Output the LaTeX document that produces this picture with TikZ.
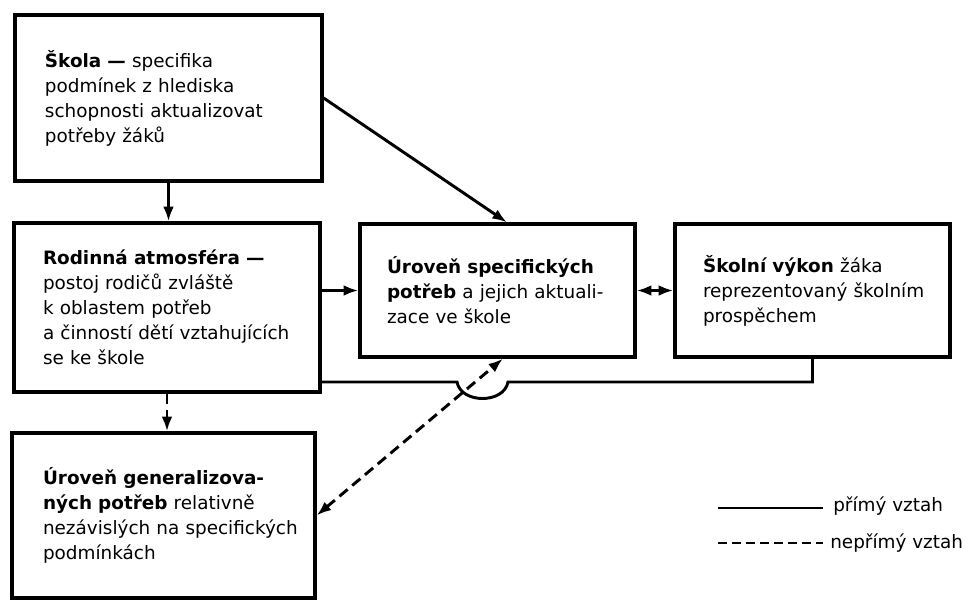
\documentclass[tikz,border=0pt]{standalone}
\usepackage{fontspec}
\setmainfont{DejaVu Sans}
\usetikzlibrary{arrows.meta,calc}
\newcommand{\bl}[1]{\mbox{#1}}
\begin{document}
\begin{tikzpicture}[x=0.75pt,y=-0.75pt,
  txt/.style={font=\fontsize{13.8}{18.75}\selectfont},
  box/.style={txt, draw, line width=2.4pt, align=left, inner xsep=0pt, inner ysep=0pt},
  conn/.style={line width=2.2pt},
  tip/.style={-{Latex[length=11pt,width=8pt]}},
  tips/.style={{Latex[length=11pt,width=8pt]}-{Latex[length=11pt,width=8pt]}},
  dsh/.style={dash pattern=on 8pt off 4.5pt}]
\useasboundingbox (0,0) rectangle (972,600);

\node[box, minimum width=230.25pt, minimum height=124.5pt, text width=185.25pt] (skola) at (168.5,98)
  {\bl{\textbf{Škola —} specifika}\\ \bl{podmínek z hlediska}\\ \bl{schopnosti aktualizovat}\\ \bl{potřeby žáků}};

\node[box, minimum width=229.5pt, minimum height=126.75pt, text width=186pt] (rodina) at (167,307.5)
  {\bl{\textbf{Rodinná atmosféra —}}\\ \bl{postoj rodičů zvláště}\\ \bl{k oblastem potřeb}\\ \bl{a činností dětí vztahujících}\\ \bl{se ke škole}};

\node[box, minimum width=227.25pt, minimum height=123.75pt, text width=180.75pt] (gen) at (163.5,515.5)
  {\bl{\textbf{Úroveň generalizova-}}\\ \bl{\textbf{ných potřeb} relativně}\\ \bl{nezávislých na specifických}\\ \bl{podmínkách}};

\node[box, minimum width=206.25pt, minimum height=99.75pt, text width=165.75pt] (spec) at (497.5,290.5)
  {\bl{\textbf{Úroveň specifických}}\\ \bl{\textbf{potřeb} a jejich aktuali-}\\ \bl{zace ve škole}};

\node[box, minimum width=206.25pt, minimum height=99.75pt, text width=164.25pt] (vykon) at (812.5,290.5)
  {\bl{\textbf{Školní výkon} žáka}\\ \bl{reprezentovaný školním}\\ \bl{prospěchem}};

% solid connectors
\draw[conn,tip] (skola.south) -- (skola.south |- rodina.north);
\draw[conn,tip] (skola.east) -- ([xshift=7.1pt]spec.north);
\draw[conn,tip] (rodina.east |- spec.west) -- (spec.west);
\draw[conn,tips] (spec.east) -- (vykon.west);

\coordinate (hopR) at (508,382);
\coordinate (hopL) at (457,382);
\draw[conn] (vykon.south) -- (vykon.south |- hopR) -- (hopR)
  .. controls +(-4,22) and +(4,22) .. (hopL) -- (rodina.east |- hopL);

% dashed connectors
\draw[conn,dsh,tip] (rodina.south) -- (rodina.south |- gen.north);
\draw[conn,dsh,tips] (gen.east) -- ([xshift=4.1pt]spec.south);

% legend
\coordinate (la) at (718,508);
\coordinate (lb) at (823,508);
\coordinate (lc) at (718,543);
\coordinate (ld) at (823,543);
\draw[conn] (la) -- (lb);
\draw[conn,dash pattern=on 7pt off 3.5pt] (lc) -- (ld);
\node[txt, anchor=west, inner sep=0pt] (l1) at (833,506) {přímý vztah};
\node[txt, anchor=west, inner sep=0pt] (l2) at (830,543) {nepřímý vztah};
\end{tikzpicture}
\end{document}
